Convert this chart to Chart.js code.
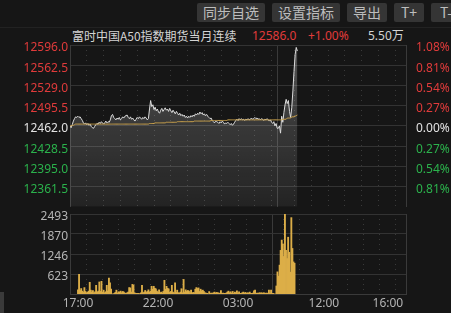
<!DOCTYPE html>
<html>
<head>
<meta charset="utf-8">
<script src="https://cdn.jsdelivr.net/npm/chart.js@4.4.0/dist/chart.umd.min.js"></script>
<style>
  html, body { margin: 0; padding: 0; background: #161616; width: 451px; height: 313px; overflow: hidden; }
  #wrap { position: relative; width: 451px; height: 313px; font-family: "Noto Sans", "Noto Sans CJK SC", sans-serif; }
  .btn { position: absolute; top: 3px; height: 19px; line-height: 19px; background: #353535; color: #bdbdbd;
         font-size: 14px; text-align: center; border-radius: 2px; font-family: "Noto Sans CJK SC", sans-serif; }
  .hdr { position: absolute; top: 28px; font-size: 12px; line-height: 16px; white-space: nowrap; }
  canvas { position: absolute; left: 0; }
</style>
</head>
<body>
<div id="wrap">
  <div style="position:absolute;left:0;top:27px;width:451px;height:1px;background:#222"></div>
  <div style="position:absolute;left:0;top:292px;width:4px;height:21px;background:#3a3a3a"></div>

  <div class="btn" style="left:197px;width:68px">同步自选</div>
  <div class="btn" style="left:272px;width:68px">设置指标</div>
  <div class="btn" style="left:347px;width:40px">导出</div>
  <div class="btn" style="left:394px;width:30px">T+</div>
  <div class="btn" style="left:431px;width:30px">T-</div>

  <div class="hdr" style="left:72px;color:#d4d4d4;font-family:'Noto Sans CJK SC',sans-serif">富时中国A50指数期货当月连续</div>
  <div class="hdr" style="left:252px;color:#e03b3b">12586.0</div>
  <div class="hdr" style="left:308px;color:#e03b3b">+1.00%</div>
  <div class="hdr" style="left:368px;color:#d4d4d4">5.50万</div>

  <canvas id="priceChart" width="451" height="186" style="top:30px"></canvas>
  <canvas id="volChart" width="451" height="113" style="top:200px"></canvas>
</div>

<script>
// one point every 4 minutes from 17:00 (night session, then day session after the break)
var stepMinutes = 4;
var prevClose = 12462;

var priceValues = [
  12462,12459,12464,12470,12474,12477,12476,12478,12476,12477,
  12474,12471,12467,12465,12467,12464,12466,12463,12465,12461,
  12459,12458,12461,12464,12466,12465,12468,12466,12469,12467,
  12465,12467,12470,12467,12469,12468,12472,12479,12481,12476,
  12474,12472,12475,12473,12476,12472,12474,12477,12475,12478,
  12479,12480,12476,12474,12477,12473,12475,12472,12470,12473,
  12476,12474,12477,12475,12473,12476,12474,12477,12475,12472,
  12474,12490,12504,12494,12497,12489,12493,12487,12490,12485,
  12483,12488,12491,12486,12489,12492,12488,12490,12486,12491,
  12487,12484,12488,12485,12482,12486,12483,12480,12483,12479,
  12481,12478,12480,12476,12478,12475,12478,12476,12479,12477,
  12480,12478,12482,12480,12483,12481,12485,12482,12484,12480,
  12482,12479,12481,12478,12476,12474,12475,12471,12469,12467,
  12470,12469,12468,12466,12469,12467,12470,12468,12465,12467,
  12466,12468,12466,12464,12466,12463,12465,12468,12471,12473,
  12471,12474,12472,12474,12472,12473,12471,12473,12472,12474,
  12472,12473,12475,12473,12474,12476,12474,12475,12473,12474,
  12472,12474,12473,12471,12473,12472,12474,12472,12470,12472,
  12468,12466,12469,12462,12466,12458,12458,12462,12450,12478,
  12468,12484,12497,12506,12499,12504,12486,12476,12492,12520,
  12552,12580,12592,12586
];

var avgValues = [
  12462,12462,12463,12463,12464,12465,12465,12465,12465,12465,
  12465,12465,12465,12465,12465,12465,12465,12465,12465,12465,
  12465,12465,12465,12465,12465,12465,12465,12465,12465,12465,
  12465,12465,12465,12465,12465,12465,12465,12465,12465,12465,
  12465,12465,12465,12465,12465,12465,12465,12465,12465,12465,
  12465,12465,12465,12465,12465,12465,12465,12465,12465,12465,
  12465,12465,12465,12465,12465,12465,12465,12465,12465,12465,
  12465,12466,12466,12466,12466,12466,12467,12467,12467,12467,
  12467,12467,12467,12467,12467,12467,12468,12468,12468,12468,
  12468,12468,12468,12468,12468,12468,12469,12469,12469,12469,
  12469,12469,12469,12469,12469,12469,12469,12469,12469,12469,
  12469,12470,12470,12470,12470,12470,12470,12470,12470,12470,
  12470,12470,12470,12470,12470,12470,12471,12471,12471,12471,
  12471,12471,12471,12471,12471,12471,12471,12471,12471,12471,
  12471,12472,12472,12472,12472,12472,12472,12472,12472,12472,
  12472,12472,12472,12472,12472,12472,12472,12472,12472,12472,
  12472,12472,12472,12472,12472,12472,12472,12472,12472,12472,
  12472,12472,12472,12472,12472,12472,12472,12472,12472,12472,
  12472,12472,12472,12472,12472,12472,12472,12472,12472,12472,
  12473,12473,12473,12473,12475,12475,12475,12475,12477,12477,
  12477,12478,12479,12480
];

var volumeValues = [
  130,615,110,170,90,60,200,80,40,60,
  90,365,120,60,110,40,70,270,60,90,
  375,80,395,60,120,40,70,270,90,500,
  345,150,0,0,20,50,120,30,70,60,
  90,40,80,60,30,20,40,60,200,190,
  60,300,280,40,20,20,20,20,0,40,
  270,40,60,110,50,80,130,60,90,240,
  150,240,180,160,90,50,130,40,60,30,
  80,427,150,240,180,160,50,80,270,60,
  40,345,50,120,40,30,60,165,40,455,
  60,130,80,110,90,40,120,30,50,40,
  150,200,170,190,80,150,100,120,80,40,
  30,20,0,75,20,30,20,40,60,30,
  50,40,30,20,110,20,30,20,20,30,
  60,90,40,70,30,80,20,60,40,95,
  30,70,20,20,40,60,30,50,20,40,
  30,60,20,20,30,95,120,20,30,20,
  40,30,40,20,40,30,20,30,20,120,
  30,120,20,20,0,0,250,690,560,900,
  1360,1680,1560,1170,2493,1360,1100,1770,1300,680,
  2380,1420,1000,960
];

var priceTicks = [12596.0, 12562.5, 12529.0, 12495.5, 12462.0, 12428.5, 12395.0, 12361.5];
var priceMin = 12328.0;
var priceMax = 12596.0;
var volumeTicks = [623, 1246, 1870, 2493];
var volumeMax = 2493;
var timeTickMinutes = [0, 300, 600, 922, 1162];
var timeTickLabels = ['17:00', '22:00', '03:00', '12:00', '16:00'];
var sessionBreak = 742;   // night session ends, day session opens
var totalMinutes = 1200;

var RED = '#e03b3b', GREEN = '#2bb24c', FLAT = '#e2e2e2', AXIS = '#b4b4b4';
var GRID = '#333333';
var tickFont = { family: 'Noto Sans', size: 12 };

// hourly grid for both sessions
var hourGrid = [];
for (var m = 0; m <= 720; m += 60) hourGrid.push(m);
for (var m2 = sessionBreak; m2 < totalMinutes; m2 += 60) hourGrid.push(m2);

function toPoints(arr) {
  return arr.map(function (v, i) { return { x: i * stepMinutes, y: v }; });
}

function priceColor(v) {
  if (v > prevClose) return RED;
  if (v < prevClose) return GREEN;
  return FLAT;
}

function timeScale(showLabels) {
  return {
    type: 'linear', min: 0, max: totalMinutes,
    afterBuildTicks: function (s) { s.ticks = hourGrid.map(function (v) { return { value: v }; }); },
    afterFit: function (s) { s.height = showLabels ? 19 : 0; },
    grid: { color: '#3a3a3a', drawTicks: false },
    border: {
      display: showLabels, color: '#3a3a3a',
      dash: function (c) { return (c.tick && c.tick.value === sessionBreak) ? [] : [1, 4]; }
    },
    ticks: {
      display: showLabels, autoSkip: false, maxRotation: 0, padding: 2, color: AXIS, font: tickFont,
      callback: function (v) {
        var k = timeTickMinutes.indexOf(v);
        return k < 0 ? '' : timeTickLabels[k];
      }
    }
  };
}

function priceFill(ctx) {
  var chart = ctx.chart, area = chart.chartArea;
  if (!area) return 'rgba(255,255,255,0.12)';
  var g = chart.ctx.createLinearGradient(0, area.top, 0, area.bottom);
  g.addColorStop(0, 'rgba(255,255,255,0.28)');
  g.addColorStop(0.5, 'rgba(255,255,255,0.15)');
  g.addColorStop(1, 'rgba(255,255,255,0.06)');
  return g;
}

new Chart(document.getElementById('priceChart'), {
  type: 'line',
  data: {
    datasets: [
      { data: toPoints(avgValues), borderColor: '#c9a14c', borderWidth: 1, pointRadius: 0, fill: false },
      { data: toPoints(priceValues), borderColor: '#dcdcdc', borderWidth: 1, pointRadius: 0,
        fill: 'start', backgroundColor: priceFill }
    ]
  },
  options: {
    responsive: false, animation: false, devicePixelRatio: 1,
    layout: { padding: { top: 15, bottom: 3, left: 0, right: 0 } },
    plugins: { legend: { display: false }, tooltip: { enabled: false } },
    elements: { line: { tension: 0 } },
    scales: {
      x: timeScale(false),
      y: {
        type: 'linear', position: 'left', min: priceMin, max: priceMax,
        afterBuildTicks: function (s) { s.ticks = priceTicks.map(function (v) { return { value: v }; }); },
        afterFit: function (s) { s.width = 70; },
        grid: { color: GRID, drawTicks: false },
        border: { color: '#3a3a3a' },
        ticks: {
          padding: 2, labelOffset: 3, font: tickFont,
          color: function (c) { return priceColor(c.tick.value); },
          callback: function (v) { return v.toFixed(1); }
        }
      },
      yPct: {
        type: 'linear', position: 'right', min: priceMin, max: priceMax,
        afterBuildTicks: function (s) { s.ticks = priceTicks.map(function (v) { return { value: v }; }); },
        afterFit: function (s) { s.width = 45; },
        grid: { display: false },
        border: { color: '#3a3a3a' },
        ticks: {
          padding: 2, labelOffset: 3, font: tickFont,
          color: function (c) { return priceColor(c.tick.value); },
          callback: function (v) { return (Math.abs(v - prevClose) / prevClose * 100).toFixed(2) + '%'; }
        }
      }
    }
  }
});

new Chart(document.getElementById('volChart'), {
  type: 'bar',
  data: {
    datasets: [
      { data: toPoints(volumeValues), backgroundColor: '#dcae48', borderWidth: 0, barThickness: 1.2 }
    ]
  },
  options: {
    responsive: false, animation: false, devicePixelRatio: 1,
    layout: { padding: { top: 14, bottom: 0, left: 0, right: 0 } },
    plugins: { legend: { display: false }, tooltip: { enabled: false } },
    scales: {
      x: timeScale(true),
      y: {
        type: 'linear', position: 'left', min: 0, max: volumeMax,
        afterBuildTicks: function (s) { s.ticks = volumeTicks.map(function (v) { return { value: v }; }); },
        afterFit: function (s) { s.width = 70; },
        grid: { color: GRID, drawTicks: false },
        border: { color: '#3a3a3a' },
        ticks: { padding: 2, labelOffset: 3, font: tickFont, color: AXIS,
                 callback: function (v) { return String(v); } }
      },
      yR: {
        type: 'linear', position: 'right',
        afterFit: function (s) { s.width = 45; },
        grid: { display: false },
        border: { color: '#3a3a3a' },
        ticks: { display: false }
      }
    }
  }
});
</script>
</body>
</html>
